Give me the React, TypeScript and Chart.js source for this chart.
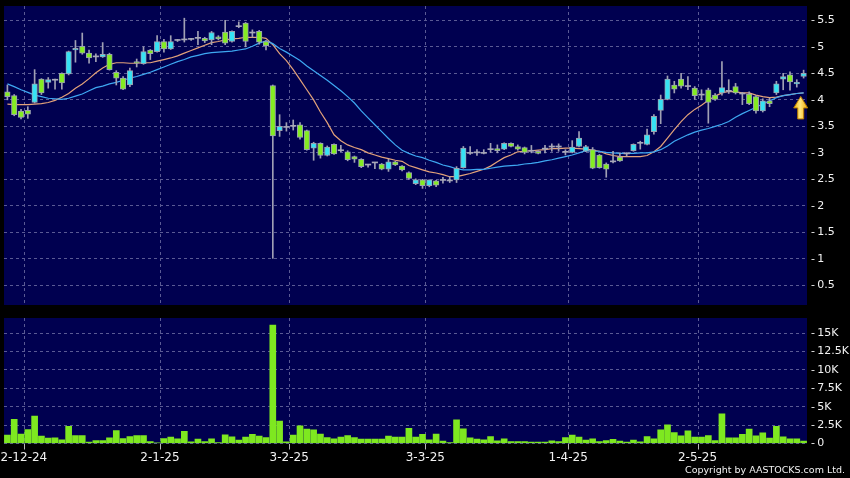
import React, { useEffect, useRef } from "react";
import { Chart, registerables } from "chart.js";

Chart.register(...registerables);

// ---------- data ----------
const DATES = [
  "27-11-24", "28-11-24", "29-11-24",
  "2-12-24", "3-12-24", "4-12-24", "5-12-24", "6-12-24", "9-12-24", "10-12-24", "11-12-24", "12-12-24", "13-12-24",
  "16-12-24", "17-12-24", "18-12-24", "19-12-24", "20-12-24", "23-12-24", "24-12-24", "27-12-24", "30-12-24", "31-12-24",
  "2-1-25", "3-1-25", "6-1-25", "7-1-25", "8-1-25", "9-1-25", "10-1-25", "13-1-25", "14-1-25", "15-1-25",
  "16-1-25", "17-1-25", "20-1-25", "21-1-25", "22-1-25", "23-1-25", "24-1-25", "27-1-25", "28-1-25",
  "3-2-25", "4-2-25", "5-2-25", "6-2-25", "7-2-25", "10-2-25", "11-2-25", "12-2-25", "13-2-25", "14-2-25",
  "17-2-25", "18-2-25", "19-2-25", "20-2-25", "21-2-25", "24-2-25", "25-2-25", "26-2-25", "27-2-25", "28-2-25",
  "3-3-25", "4-3-25", "5-3-25", "6-3-25", "7-3-25", "10-3-25", "11-3-25", "12-3-25", "13-3-25", "14-3-25",
  "17-3-25", "18-3-25", "19-3-25", "20-3-25", "21-3-25", "24-3-25", "25-3-25", "26-3-25", "27-3-25", "28-3-25", "31-3-25",
  "1-4-25", "2-4-25", "3-4-25", "7-4-25", "8-4-25", "9-4-25", "10-4-25", "11-4-25", "14-4-25", "15-4-25",
  "16-4-25", "17-4-25", "22-4-25", "23-4-25", "24-4-25", "25-4-25", "28-4-25", "29-4-25", "30-4-25",
  "2-5-25", "6-5-25", "7-5-25", "8-5-25", "9-5-25", "12-5-25", "13-5-25", "14-5-25", "15-5-25", "16-5-25",
  "19-5-25", "20-5-25", "21-5-25", "22-5-25", "23-5-25", "26-5-25",
];

const MONTH_TICKS = ["2-12-24", "2-1-25", "3-2-25", "3-3-25", "1-4-25", "2-5-25"];

const OPEN = [
  4.15, 4.08, 3.79, 3.80, 3.95, 4.39, 4.33, 4.37, 4.50, 4.49,
  4.94, 5.01, 4.88, 4.81, 4.81, 4.86, 4.52, 4.41, 4.28, 4.72,
  4.68, 4.94, 4.91, 5.10, 4.96, 5.12, 5.13, 5.14, 5.16, 5.16,
  5.13, 5.19, 5.28, 5.10, 5.38, 5.45, 5.26, 5.29, 5.10, 4.27,
  3.42, 3.48, 3.50, 3.53, 3.42, 3.09, 3.18, 2.95, 3.16, 3.04,
  3.02, 2.93, 2.88, 2.77, 2.81, 2.79, 2.69, 2.83, 2.75, 2.63,
  2.42, 2.49, 2.38, 2.47, 2.48, 2.47, 2.49, 2.72, 2.99, 3.00,
  2.99, 3.06, 3.08, 3.07, 3.18, 3.12, 3.10, 3.03, 3.03, 3.07,
  3.11, 3.11, 3.01, 3.01, 3.12, 3.03, 3.06, 2.96, 2.79, 2.83,
  2.92, 2.98, 3.04, 3.18, 3.16, 3.40, 3.80, 4.01, 4.28, 4.39,
  4.25, 4.22, 4.09, 4.19, 4.09, 4.13, 4.16, 4.25, 4.11, 4.11,
  4.06, 3.79, 3.98, 4.13, 4.39, 4.47, 4.30, 4.44,
];

const HIGH = [
  4.28, 4.10, 3.82, 3.87, 4.57, 4.40, 4.42, 4.39, 4.51, 4.92,
  5.12, 5.26, 4.94, 4.87, 5.08, 4.88, 4.55, 4.44, 4.60, 4.77,
  5.00, 4.95, 5.21, 5.14, 5.21, 5.14, 5.54, 5.16, 5.29, 5.18,
  5.29, 5.21, 5.50, 5.30, 5.47, 5.46, 5.32, 5.31, 5.12, 4.28,
  3.72, 3.57, 3.62, 3.57, 3.43, 3.20, 3.19, 3.13, 3.17, 3.14,
  3.04, 2.94, 2.89, 2.78, 2.82, 2.80, 2.88, 2.84, 2.76, 2.64,
  2.51, 2.50, 2.49, 2.48, 2.54, 2.55, 2.74, 3.12, 3.12, 3.06,
  3.06, 3.18, 3.15, 3.19, 3.19, 3.15, 3.11, 3.14, 3.04, 3.14,
  3.17, 3.17, 3.06, 3.23, 3.40, 3.14, 3.10, 2.97, 2.81, 3.03,
  3.00, 3.00, 3.17, 3.22, 3.45, 3.72, 4.09, 4.45, 4.35, 4.50,
  4.44, 4.25, 4.19, 4.22, 4.12, 4.72, 4.38, 4.31, 4.14, 4.15,
  4.08, 4.02, 4.03, 4.35, 4.50, 4.53, 4.38, 4.56,
];

const LOW = [
  4.00, 3.70, 3.64, 3.65, 3.94, 4.10, 4.22, 4.20, 4.20, 4.47,
  4.71, 4.86, 4.69, 4.72, 4.80, 4.56, 4.28, 4.19, 4.25, 4.62,
  4.67, 4.76, 4.90, 4.90, 4.95, 5.10, 5.09, 5.12, 5.04, 5.08,
  5.04, 5.13, 5.04, 5.09, 5.36, 5.00, 5.18, 5.05, 4.94, 1.01,
  3.31, 3.41, 3.43, 3.26, 3.05, 2.86, 2.90, 2.94, 2.97, 3.02,
  2.85, 2.82, 2.72, 2.73, 2.70, 2.68, 2.65, 2.76, 2.66, 2.50,
  2.40, 2.33, 2.36, 2.36, 2.43, 2.44, 2.44, 2.71, 2.97, 2.95,
  2.98, 3.01, 3.00, 3.06, 3.11, 3.05, 2.98, 3.00, 2.98, 3.00,
  3.03, 3.03, 2.96, 3.00, 3.11, 3.02, 2.70, 2.71, 2.54, 2.81,
  2.84, 2.94, 3.03, 3.07, 3.15, 3.35, 3.55, 4.00, 4.13, 4.22,
  4.19, 4.01, 4.00, 3.56, 3.99, 4.09, 4.12, 4.11, 3.91, 3.91,
  3.75, 3.77, 3.87, 4.10, 4.19, 4.18, 4.24, 4.41,
];

const CLOSE = [
  4.06, 3.72, 3.67, 3.73, 4.30, 4.13, 4.38, 4.37, 4.32, 4.91,
  4.97, 4.88, 4.79, 4.81, 4.86, 4.57, 4.41, 4.20, 4.55, 4.69,
  4.91, 4.87, 5.10, 4.96, 5.10, 5.12, 5.13, 5.14, 5.16, 5.11,
  5.27, 5.15, 5.07, 5.29, 5.38, 5.10, 5.26, 5.09, 5.02, 3.32,
  3.50, 3.48, 3.50, 3.29, 3.06, 3.18, 2.95, 3.11, 2.98, 3.04,
  2.87, 2.88, 2.74, 2.77, 2.81, 2.69, 2.83, 2.77, 2.68, 2.52,
  2.49, 2.38, 2.49, 2.39, 2.48, 2.47, 2.71, 3.09, 2.99, 3.00,
  2.99, 3.06, 3.04, 3.18, 3.12, 3.07, 3.01, 3.03, 2.99, 3.07,
  3.11, 3.11, 3.01, 3.11, 3.28, 3.12, 2.71, 2.72, 2.69, 2.83,
  2.85, 2.98, 3.16, 3.18, 3.34, 3.69, 4.01, 4.39, 4.20, 4.26,
  4.25, 4.08, 4.09, 3.95, 4.01, 4.23, 4.16, 4.13, 4.11, 3.93,
  3.79, 3.98, 3.93, 4.30, 4.44, 4.34, 4.33, 4.50,
];

// short moving average (orange)
const MA_SHORT = [
  3.92, 3.91, 3.91, 3.91, 3.92, 3.93, 3.95, 3.99, 4.05, 4.12,
  4.22, 4.30, 4.40, 4.51, 4.60, 4.67, 4.70, 4.70, 4.69, 4.69,
  4.70, 4.70, 4.73, 4.76, 4.79, 4.83, 4.88, 4.93, 4.98, 5.03,
  5.08, 5.10, 5.13, 5.15, 5.16, 5.18, 5.18, 5.18, 5.16, 5.04,
  4.87, 4.74, 4.57, 4.38, 4.19, 4.00, 3.77, 3.57, 3.34, 3.23,
  3.15, 3.10, 3.06, 3.00, 2.96, 2.92, 2.89, 2.86, 2.84, 2.76,
  2.72, 2.68, 2.64, 2.62, 2.59, 2.55, 2.55, 2.58, 2.61, 2.65,
  2.69, 2.75, 2.83, 2.91, 2.96, 3.02, 3.03, 3.04, 3.05, 3.06,
  3.08, 3.08, 3.09, 3.09, 3.08, 3.07, 3.05, 3.03, 2.98, 2.95,
  2.93, 2.93, 2.93, 2.93, 2.95, 3.02, 3.12, 3.28, 3.44, 3.59,
  3.72, 3.82, 3.90, 3.99, 4.07, 4.13, 4.16, 4.15, 4.13, 4.13,
  4.09, 4.06, 4.04, 4.05, 4.08, 4.10, 4.12, 4.13,
];

// long moving average (blue)
const MA_LONG = [
  4.30, 4.25, 4.19, 4.14, 4.09, 4.06, 4.03, 4.02, 4.01, 4.03,
  4.07, 4.11, 4.17, 4.23, 4.26, 4.30, 4.33, 4.37, 4.41, 4.44,
  4.48, 4.52, 4.57, 4.62, 4.67, 4.72, 4.76, 4.81, 4.84, 4.87,
  4.89, 4.90, 4.91, 4.92, 4.94, 4.96, 5.01, 5.07, 5.11, 5.06,
  4.97, 4.90, 4.82, 4.74, 4.64, 4.55, 4.46, 4.37, 4.27, 4.17,
  4.06, 3.94, 3.79, 3.66, 3.53, 3.40, 3.27, 3.15, 3.05, 2.99,
  2.94, 2.91, 2.86, 2.82, 2.77, 2.74, 2.70, 2.68, 2.68, 2.69,
  2.69, 2.71, 2.73, 2.75, 2.76, 2.77, 2.79, 2.80, 2.82, 2.85,
  2.87, 2.90, 2.93, 2.96, 3.00, 3.04, 3.03, 3.03, 3.01, 3.00,
  2.99, 2.99, 2.99, 3.00, 3.00, 3.02, 3.06, 3.13, 3.22, 3.28,
  3.34, 3.39, 3.43, 3.46, 3.50, 3.54, 3.59, 3.67, 3.74, 3.80,
  3.86, 3.92, 3.98, 4.04, 4.08, 4.10, 4.12, 4.13,
];

const VOLUME = [
  1130, 3270, 1270, 1900, 3720, 1000, 720, 770, 500, 2320,
  1090, 1090, 180, 410, 410, 770, 1770, 680, 950, 1090,
  1090, 270, 90, 680, 860, 640, 1640, 230, 590, 270,
  640, 140, 1180, 910, 450, 860, 1230, 1000, 820, 16100,
  3040, 220, 1130, 2400, 1950, 1860, 1270, 820, 640, 860,
  1090, 820, 590, 590, 590, 590, 1000, 860, 860, 2050,
  860, 1230, 500, 1270, 320, 140, 3220, 2000, 770, 590,
  500, 950, 360, 640, 270, 270, 270, 180, 180, 180,
  360, 270, 820, 1130, 860, 450, 640, 270, 410, 550,
  320, 180, 450, 230, 950, 640, 1860, 2550, 1500, 1040,
  1730, 860, 860, 1090, 410, 4040, 770, 770, 1230, 1950,
  1040, 1450, 720, 2320, 910, 640, 640, 320,
];

const PRICE_TICKS = [0.5, 1, 1.5, 2, 2.5, 3, 3.5, 4, 4.5, 5, 5.5];
const VOLUME_TICKS = [0, 2500, 5000, 7500, 10000, 12500, 15000];

// ---------- styles ----------
const NAVY = "#000050";
const GRID = "#5a5a94";
const UP = "#36e2f4";
const DOWN = "#84ec22";
const FLAT = "#a8a8b8";
const WICK = "#a0a0b4";
const BODY_EDGE = "#9aa2b0";
const MA_SHORT_COLOR = "#e3a27a";
const MA_LONG_COLOR = "#3ea8f2";
const VOL_COLOR = "#7ee820";
const FONT = "'DejaVu Sans', Verdana, sans-serif";
const TICK_PREFIX = "-\u2009";

const isMonth = (i: number) => i >= 0 && i < DATES.length && MONTH_TICKS.includes(DATES[i]);

const plotBg = {
  id: "plotBg",
  beforeDraw(chart: any) {
    const { ctx, chartArea: a } = chart;
    ctx.save();
    ctx.fillStyle = NAVY;
    ctx.fillRect(a.left, a.top, a.right - a.left, a.bottom - a.top);
    ctx.restore();
  },
};

const arrowPlugin = {
  id: "lastArrow",
  afterDatasetsDraw(chart: any) {
    const xs = chart.scales.x;
    const ys = chart.scales.y;
    const n = DATES.length;
    const cx = (xs.getPixelForValue(n - 2) + xs.getPixelForValue(n - 1)) / 2 + 0.5;
    const top = ys.getPixelForValue(MA_LONG[n - 1]) + 3.5;
    const ctx = chart.ctx;
    ctx.save();
    ctx.beginPath();
    ctx.moveTo(cx, top);
    ctx.lineTo(cx + 7, top + 11.5);
    ctx.lineTo(cx + 3, top + 11.5);
    ctx.lineTo(cx + 3, top + 22.5);
    ctx.lineTo(cx - 3, top + 22.5);
    ctx.lineTo(cx - 3, top + 11.5);
    ctx.lineTo(cx - 7, top + 11.5);
    ctx.closePath();
    const g = ctx.createLinearGradient(cx - 7, 0, cx + 7, 0);
    g.addColorStop(0, "#f2b400");
    g.addColorStop(0.45, "#ffe680");
    g.addColorStop(1, "#f0a800");
    ctx.fillStyle = g;
    ctx.fill();
    ctx.strokeStyle = "#b87a00";
    ctx.lineWidth = 1;
    ctx.stroke();
    ctx.restore();
  },
};

const noPad = (s: any) => {
  s.paddingTop = 0;
  s.paddingBottom = 0;
  s.paddingLeft = 0;
  s.paddingRight = 0;
};

export default function App() {
  const mainRef = useRef<HTMLCanvasElement | null>(null);
  const volRef = useRef<HTMLCanvasElement | null>(null);

  useEffect(() => {
    Chart.defaults.font.family = FONT;
    const wicks = HIGH.map((h, i) => [LOW[i], h]);
    const bodies = OPEN.map((o, i) => [o, CLOSE[i]]);
    const bodyColors = OPEN.map((o, i) => (CLOSE[i] > o ? UP : CLOSE[i] < o ? DOWN : FLAT));
    const bodyBorderW = OPEN.map((o, i) => (CLOSE[i] === o ? 0 : 1));

    const main = new Chart(mainRef.current as HTMLCanvasElement, {
      type: "bar",
      data: {
        labels: DATES,
        datasets: [
          {
            type: "line",
            data: MA_SHORT,
            borderColor: MA_SHORT_COLOR,
            borderWidth: 1.2,
            pointRadius: 0,
            tension: 0,
            order: 4,
          } as any,
          {
            type: "line",
            data: MA_LONG,
            borderColor: MA_LONG_COLOR,
            borderWidth: 1.2,
            pointRadius: 0,
            tension: 0,
            order: 3,
          } as any,
          {
            type: "bar",
            data: wicks as any,
            backgroundColor: WICK,
            barThickness: 1,
            grouped: false,
            order: 2,
          } as any,
          {
            type: "bar",
            data: bodies as any,
            backgroundColor: bodyColors,
            borderColor: BODY_EDGE,
            borderWidth: bodyBorderW,
            borderSkipped: false,
            barThickness: 5.5,
            minBarLength: 1,
            grouped: false,
            order: 1,
          } as any,
        ],
      },
      options: {
        responsive: false,
        animation: false,
        layout: { padding: { left: 4, top: 6, right: 0, bottom: 0 } },
        plugins: { legend: { display: false }, tooltip: { enabled: false } },
        scales: {
          x: {
            offset: true,
            grid: {
              offset: true,
              color: (c: any) => (isMonth(c.index) ? GRID : "transparent"),
              drawTicks: false,
            },
            border: { display: false, dash: [3, 3] },
            ticks: { display: false, autoSkip: false },
            afterFit: (s: any) => {
              s.height = 5;
              noPad(s);
            },
          } as any,
          y: {
            position: "right",
            min: 0.13,
            max: 5.77,
            afterBuildTicks: (s: any) => {
              s.ticks = PRICE_TICKS.map((v) => ({ value: v }));
            },
            ticks: {
              callback: (v: any) => TICK_PREFIX + v,
              color: "#f2f2f2",
              font: { size: 11, family: FONT },
              padding: 4,
            },
            grid: { color: GRID, drawTicks: false },
            border: { display: false, dash: [3, 3] },
            afterFit: (s: any) => {
              s.width = 43;
              noPad(s);
            },
          } as any,
        },
      },
      plugins: [plotBg, arrowPlugin],
    });

    const vol = new Chart(volRef.current as HTMLCanvasElement, {
      type: "bar",
      data: {
        labels: DATES,
        datasets: [
          {
            data: VOLUME,
            backgroundColor: VOL_COLOR,
            borderWidth: 0,
            barThickness: 6,
          },
        ],
      },
      options: {
        responsive: false,
        animation: false,
        layout: { padding: { left: 4, top: 8, right: 0, bottom: 0 } },
        plugins: { legend: { display: false }, tooltip: { enabled: false } },
        scales: {
          x: {
            offset: true,
            grid: {
              offset: true,
              color: (c: any) => (isMonth(c.index) ? GRID : "transparent"),
              tickColor: (c: any) => (isMonth(c.index) ? "#b8b8b8" : "transparent"),
              drawTicks: true,
              tickLength: 6,
            },
            border: { display: false, dash: [3, 3] },
            ticks: {
              autoSkip: false,
              maxRotation: 0,
              minRotation: 0,
              color: "#f2f2f2",
              font: { size: 12, family: FONT },
              padding: 1,
              labelOffset: -4,
              callback: (_v: any, i: number) => (isMonth(i) ? DATES[i] : ""),
            },
            afterFit: (s: any) => {
              s.height = 34.5;
              noPad(s);
            },
          } as any,
          y: {
            position: "right",
            min: 0,
            max: 17050,
            afterBuildTicks: (s: any) => {
              s.ticks = VOLUME_TICKS.map((v) => ({ value: v }));
            },
            ticks: {
              callback: (v: any) => TICK_PREFIX + (v === 0 ? "0" : v / 1000 + "K"),
              color: "#f2f2f2",
              font: { size: 11, family: FONT },
              padding: 4,
            },
            grid: { color: GRID, drawTicks: false },
            border: { display: false, dash: [3, 3] },
            afterFit: (s: any) => {
              s.width = 43;
              noPad(s);
            },
          } as any,
        },
      },
      plugins: [plotBg],
    });

    return () => {
      main.destroy();
      vol.destroy();
    };
  }, []);

  return (
    <div
      style={{
        position: "fixed",
        left: 0,
        top: 0,
        width: 850,
        height: 478,
        background: "#000",
        overflow: "hidden",
      }}
    >
      <canvas
        ref={mainRef}
        width={850}
        height={310}
        style={{ position: "absolute", left: 0, top: 0, width: 850, height: 310 }}
      />
      <canvas
        ref={volRef}
        width={850}
        height={168}
        style={{ position: "absolute", left: 0, top: 310, width: 850, height: 168 }}
      />
      <div
        style={{
          position: "absolute",
          left: 0,
          top: 464,
          width: 845,
          textAlign: "right",
          color: "#f2f2f2",
          fontFamily: FONT,
          fontSize: "9.5px",
          lineHeight: "11px",
          whiteSpace: "nowrap",
        }}
      >
        Copyright by AASTOCKS.com Ltd.
      </div>
    </div>
  );
}
